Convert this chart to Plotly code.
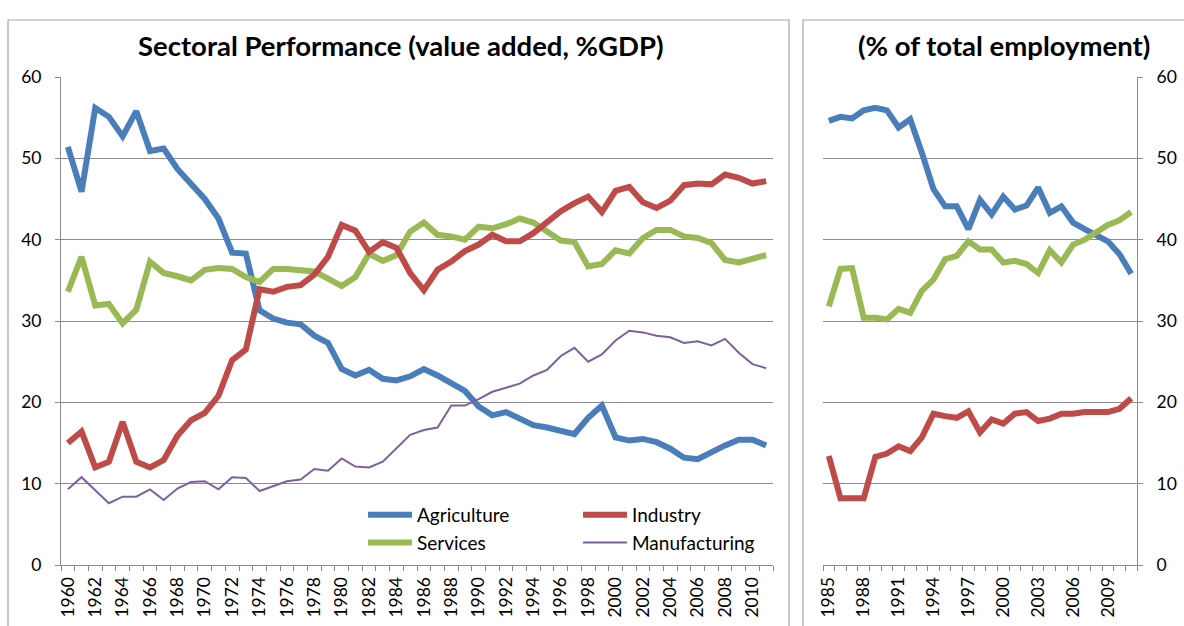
import plotly.graph_objects as go

# ---------------- data ----------------
years_gdp = list(range(1960, 2012))
agri_gdp = [51.4, 45.9, 56.2, 55.1, 52.7, 55.8, 50.9, 51.2, 48.7, 46.9,
            45.0, 42.6, 38.4, 38.3, 31.3, 30.3, 29.8, 29.6, 28.2, 27.3,
            24.1, 23.3, 24.0, 22.9, 22.7, 23.2, 24.1, 23.3, 22.4, 21.4,
            19.5, 18.4, 18.8, 18.0, 17.2, 16.9, 16.5, 16.1, 18.1, 19.6,
            15.7, 15.3, 15.5, 15.1, 14.3, 13.2, 13.0, 13.9, 14.7, 15.4,
            15.4, 14.7]
ind_gdp = [15.0, 16.4, 12.0, 12.7, 17.6, 12.7, 12.0, 12.9, 15.9, 17.8,
           18.7, 20.8, 25.2, 26.5, 33.9, 33.6, 34.2, 34.4, 35.7, 37.9,
           41.8, 41.1, 38.5, 39.7, 39.0, 35.9, 33.8, 36.3, 37.3, 38.6,
           39.4, 40.6, 39.8, 39.8, 40.8, 42.1, 43.5, 44.5, 45.3, 43.4,
           46.0, 46.5, 44.6, 43.9, 44.8, 46.7, 46.9, 46.8, 48.0, 47.6,
           46.9, 47.2]
serv_gdp = [33.6, 37.9, 31.9, 32.1, 29.7, 31.4, 37.3, 35.9, 35.5, 35.0,
            36.3, 36.5, 36.4, 35.4, 34.8, 36.4, 36.4, 36.2, 36.1, 35.2,
            34.3, 35.4, 38.3, 37.4, 38.1, 41.0, 42.1, 40.6, 40.4, 40.0,
            41.6, 41.4, 41.9, 42.6, 42.1, 41.0, 39.9, 39.7, 36.7, 37.0,
            38.7, 38.3, 40.2, 41.2, 41.2, 40.4, 40.2, 39.6, 37.5, 37.2,
            37.7, 38.1]
manu_gdp = [9.3, 10.8, 9.2, 7.6, 8.4, 8.4, 9.3, 8.0, 9.4, 10.2,
            10.3, 9.3, 10.8, 10.7, 9.1, 9.7, 10.3, 10.5, 11.8, 11.6,
            13.1, 12.1, 12.0, 12.7, 14.3, 16.0, 16.6, 16.9, 19.6, 19.6,
            20.4, 21.3, 21.8, 22.3, 23.3, 24.0, 25.7, 26.7, 25.0, 25.9,
            27.6, 28.8, 28.6, 28.2, 28.0, 27.3, 27.5, 27.0, 27.8, 26.1,
            24.7, 24.2]

years_emp = list(range(1985, 2012))
agri_emp = [54.6, 55.1, 54.9, 55.9, 56.2, 55.9, 53.8, 54.8, 50.7, 46.2,
            44.1, 44.1, 41.3, 44.9, 43.1, 45.3, 43.7, 44.2, 46.4, 43.3,
            44.1, 42.1, 41.3, 40.6, 39.8, 38.2, 35.8]
ind_emp = [13.4, 8.2, 8.2, 8.2, 13.3, 13.7, 14.6, 14.0, 15.7, 18.6,
           18.3, 18.1, 18.9, 16.3, 17.9, 17.4, 18.6, 18.8, 17.7, 18.0,
           18.6, 18.6, 18.8, 18.8, 18.8, 19.2, 20.5]
serv_emp = [31.8, 36.4, 36.5, 30.4, 30.4, 30.2, 31.5, 31.0, 33.7, 35.1,
            37.6, 38.0, 39.8, 38.8, 38.8, 37.2, 37.4, 37.0, 35.9, 38.7,
            37.2, 39.4, 40.0, 40.9, 41.8, 42.4, 43.4]

gdp_ticks = list(range(1960, 2012, 2))
emp_ticks = list(range(1985, 2012, 3))
y_ticks = [0, 10, 20, 30, 40, 50, 60]

title_left = "Sectoral Performance (value added, %GDP)"
title_right = "(% of total employment)"

# ---------------- style ----------------
W, H = 1184, 626
FONT = "Lato"
BLUE, RED, GREEN, PURPLE = "#4A7EBB", "#BE4B48", "#98B954", "#7D60A0"
GRID = "#8C8C8C"

def px_x(p):
    return p / W

def px_y(p):
    return 1 - p / H

fig = go.Figure()

thick = 6
fig.add_trace(go.Scatter(x=years_gdp, y=agri_gdp, name="Agriculture", mode="lines",
                         line=dict(color=BLUE, width=thick), legend="legend",
                         legendgroup="a", xaxis="x", yaxis="y"))
fig.add_trace(go.Scatter(x=years_gdp, y=serv_gdp, name="Services", mode="lines",
                         line=dict(color=GREEN, width=thick), legend="legend",
                         legendgroup="s", xaxis="x", yaxis="y"))
fig.add_trace(go.Scatter(x=years_gdp, y=ind_gdp, name="Industry", mode="lines",
                         line=dict(color=RED, width=thick), legend="legend2",
                         legendgroup="i", xaxis="x", yaxis="y"))
fig.add_trace(go.Scatter(x=years_gdp, y=manu_gdp, name="Manufacturing", mode="lines",
                         line=dict(color=PURPLE, width=2), legend="legend2",
                         legendgroup="m", xaxis="x", yaxis="y"))

fig.add_trace(go.Scatter(x=years_emp, y=agri_emp, mode="lines", showlegend=False,
                         line=dict(color=BLUE, width=thick), xaxis="x2", yaxis="y2"))
fig.add_trace(go.Scatter(x=years_emp, y=serv_emp, mode="lines", showlegend=False,
                         line=dict(color=GREEN, width=thick), xaxis="x2", yaxis="y2"))
fig.add_trace(go.Scatter(x=years_emp, y=ind_emp, mode="lines", showlegend=False,
                         line=dict(color=RED, width=thick), xaxis="x2", yaxis="y2"))

ydom = [px_y(565), px_y(77)]
tickfont = dict(family=FONT, size=17.5, color="#000000")

common_x = dict(showgrid=False, zeroline=False, showline=True, linecolor=GRID, linewidth=1,
                ticks="", tickangle=-90, tickfont=tickfont, fixedrange=True,
                automargin=False, ticklabelstandoff=4)
common_y = dict(range=[0, 60], tickvals=y_ticks, showgrid=True, gridcolor=GRID, gridwidth=1,
                zeroline=False, showline=True, linecolor=GRID, linewidth=1,
                ticks="outside", ticklen=5, tickcolor=GRID, tickfont=tickfont, fixedrange=True,
                automargin=False, ticklabelstandoff=10)

legend_font = dict(family=FONT, size=19, color="#000000")

fig.update_layout(
    width=W, height=H,
    autosize=False,
    margin=dict(l=0, r=0, t=0, b=0, pad=0, autoexpand=False),
    paper_bgcolor="white", plot_bgcolor="white",
    font=dict(family=FONT, color="#000000"),
    xaxis=dict(domain=[px_x(61), px_x(773)], range=[1959.5, 2011.5],
               tickvals=gdp_ticks, ticktext=[str(v) for v in gdp_ticks],
               minor=dict(ticks="outside", tickvals=[y - 0.5 for y in years_gdp] + [2011.5],
                          ticklen=5, tickcolor=GRID),
               anchor="y", **common_x),
    yaxis=dict(domain=ydom, anchor="x", side="left", **common_y),
    xaxis2=dict(domain=[px_x(823), px_x(1137)], range=[1984.5, 2011.5],
                tickvals=emp_ticks, ticktext=[str(v) for v in emp_ticks],
                minor=dict(ticks="outside", tickvals=[y - 0.5 for y in years_emp] + [2011.5],
                           ticklen=5, tickcolor=GRID),
                anchor="y2", **common_x),
    yaxis2=dict(domain=ydom, anchor="x2", side="right", **common_y),
    legend=dict(x=px_x(363), y=px_y(496), xanchor="left", yanchor="top",
                orientation="v", bgcolor="rgba(0,0,0,0)", tracegroupgap=0,
                font=legend_font, itemwidth=44),
    legend2=dict(x=px_x(578), y=px_y(496), xanchor="left", yanchor="top",
                 orientation="v", bgcolor="rgba(0,0,0,0)", tracegroupgap=0,
                 font=legend_font, itemwidth=44),
    showlegend=True,
)

fig.add_annotation(text="<b>" + title_left + "</b>", xref="paper", yref="paper",
                   x=px_x(401), y=px_y(46), xanchor="center", yanchor="middle",
                   showarrow=False, font=dict(family=FONT, size=27.5, color="#000000"))
fig.add_annotation(text="<b>" + title_right + "</b>", xref="paper", yref="paper",
                   x=px_x(1004), y=px_y(46), xanchor="center", yanchor="middle",
                   showarrow=False, font=dict(family=FONT, size=27.5, color="#000000"))

# panel frames
fig.add_shape(type="rect", xref="paper", yref="paper",
              x0=px_x(8), x1=px_x(789), y0=px_y(640), y1=px_y(20),
              line=dict(color="#A6A6A6", width=1.2), layer="below")
fig.add_shape(type="rect", xref="paper", yref="paper",
              x0=px_x(803), x1=px_x(1195), y0=px_y(640), y1=px_y(20),
              line=dict(color="#A6A6A6", width=1.2), layer="below")

fig.write_html(
    "out.html",
    config={"displayModeBar": False},
    post_script="document.body.style.margin='0';document.body.style.overflow='hidden';",
)
